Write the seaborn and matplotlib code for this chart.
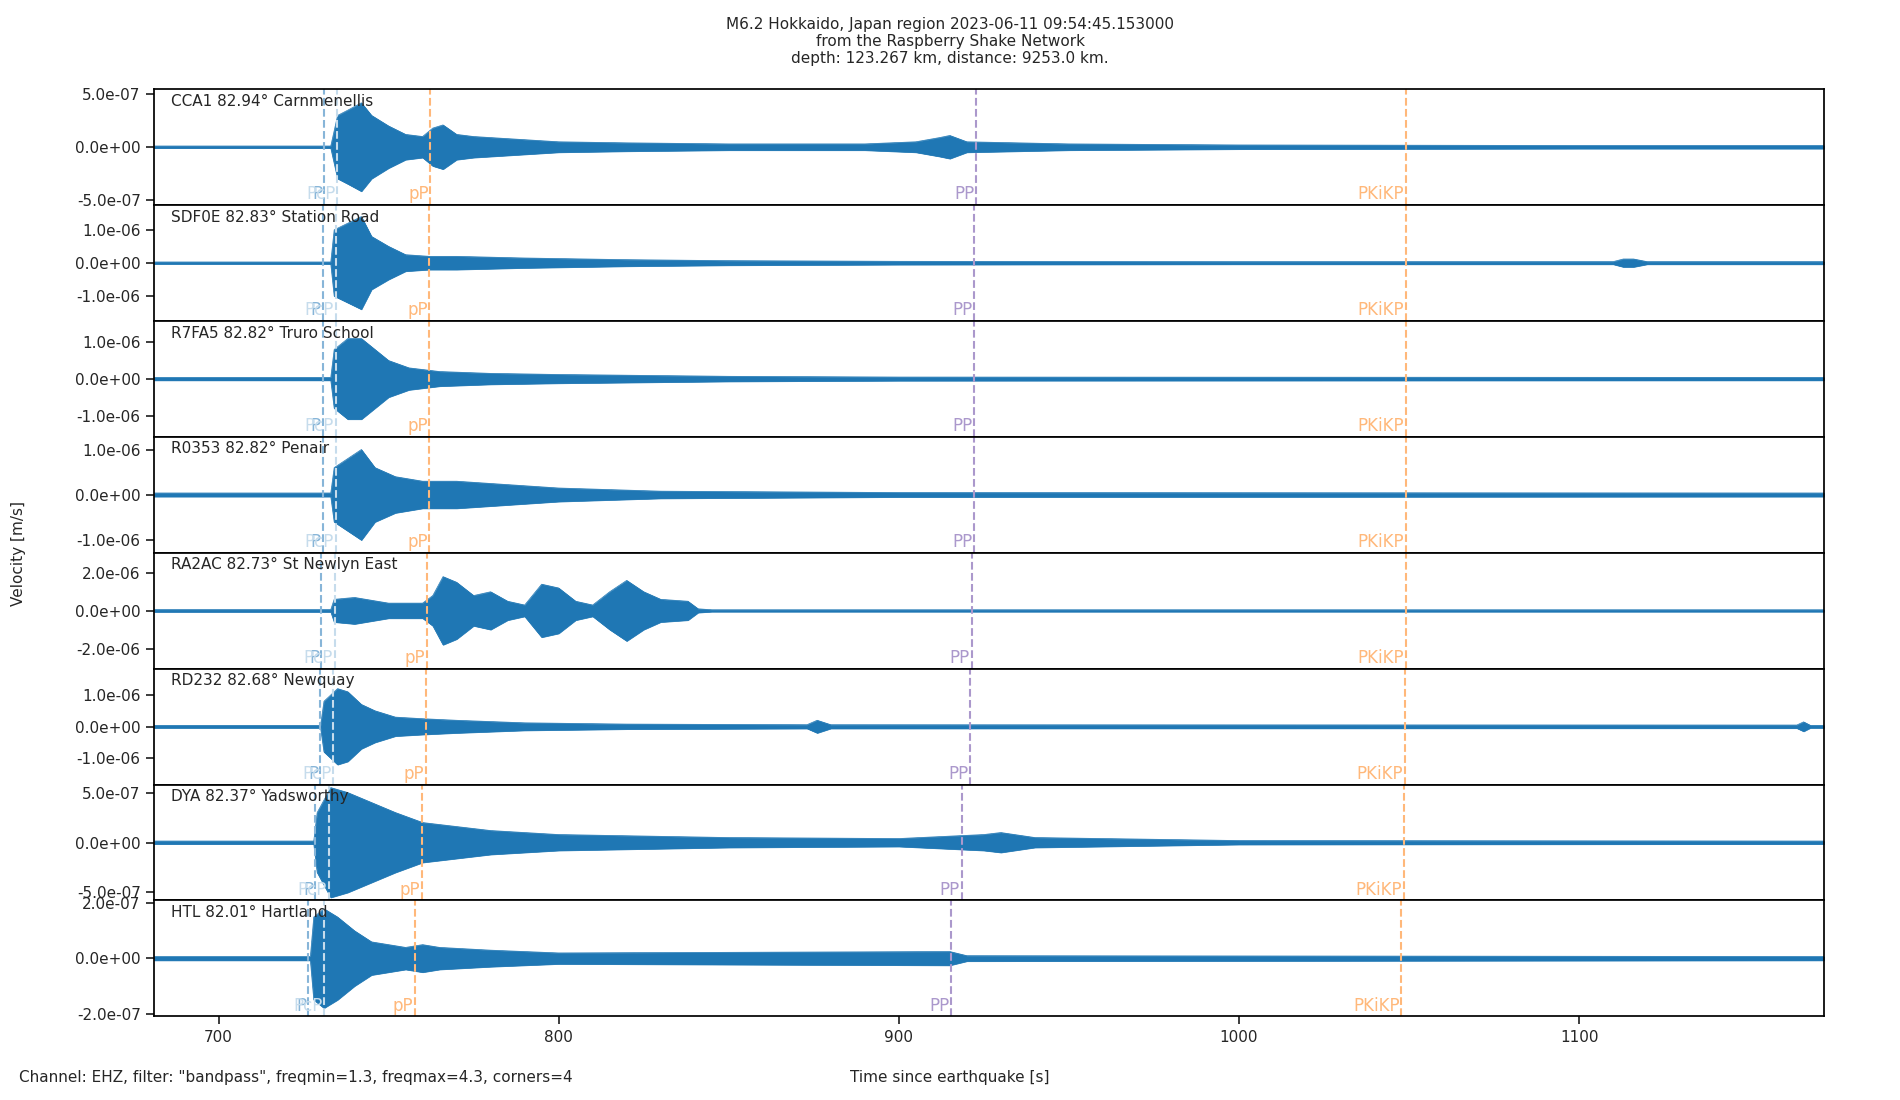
"""
Raspberry Shake section plot, M6.2 Hokkaido 2023-06-11
"""
import numpy as np
import pandas as pd
import matplotlib
matplotlib.use("Agg")
import matplotlib.pyplot as plt
import seaborn as sns

sns.set_theme(style="ticks")
plt.rcParams['font.family'] = ['DejaVu Sans']

# station labels, top to bottom
stations = ["CCA1 82.94° Carnmenellis", "SDF0E 82.83° Station Road",
            "R7FA5 82.82° Truro School", "R0353 82.82° Penair",
            "RA2AC 82.73° St Newlyn East", "RD232 82.68° Newquay",
            "DYA 82.37° Yadsworthy", "HTL 82.01° Hartland"]

# y tick value per panel and y limit (m/s)
tick_vals = [5e-7, 1e-6, 1e-6, 1e-6, 2e-6, 1e-6, 5e-7, 2e-7]
y_lims = [5.5e-7, 1.75e-6, 1.58e-6, 1.28e-6, 3.06e-6, 1.83e-6, 5.8e-7, 2.1e-7]

# phase arrival times per station [s]: P, PcP, pP, PP, PKiKP
phase_names = ["P", "PcP", "pP", "PP", "PKiKP"]
phase_colors = ["#87b5d8", "#c6dcec", "#ffb87a", "#ab98cc", "#ffb87a"]
arrivals = [
    [731.0, 734.9, 762.3, 922.8, 1049.1],
    [730.6, 734.5, 762.0, 922.1, 1049.1],
    [730.6, 734.5, 762.0, 922.1, 1049.1],
    [730.6, 734.5, 762.0, 922.1, 1049.1],
    [730.2, 734.2, 761.2, 921.4, 1049.0],
    [729.9, 733.8, 760.9, 921.0, 1048.8],
    [728.5, 732.4, 759.8, 918.5, 1048.4],
    [726.3, 731.0, 757.7, 915.3, 1047.7],
]

# trace envelope: times [s] and amplitude [1e-7 m/s]
env_t = [
    [681, 733, 735, 738, 742, 745, 750, 755, 760, 763, 766, 770, 775, 790, 800, 820, 850, 890, 905, 912, 915, 920, 950, 1000, 1100, 1172],
    [681, 733, 734, 738, 742, 745, 750, 755, 762, 770, 790, 820, 850, 900, 1000, 1110, 1113, 1116, 1120, 1172],
    [681, 733, 734, 738, 742, 746, 750, 756, 765, 780, 800, 850, 900, 1172],
    [681, 733, 734, 740, 742, 746, 752, 760, 770, 780, 790, 800, 830, 900, 1172],
    [681, 733, 734, 740, 750, 760, 763, 766, 770, 775, 780, 785, 790, 795, 800, 805, 810, 815, 820, 825, 830, 838, 841, 845, 1172],
    [681, 730, 731, 735, 738, 742, 746, 752, 760, 770, 790, 820, 873, 876, 880, 1164, 1166, 1168, 1172],
    [681, 728, 729, 733, 738, 745, 752, 760, 770, 780, 800, 850, 900, 925, 930, 940, 1000, 1172],
    [681, 727, 728, 731, 735, 740, 745, 755, 760, 765, 780, 800, 915, 920, 1172],
]
env_a = [
    [0.1, 0.1, 3.0, 3.5, 4.2, 3.0, 2.0, 1.2, 1.0, 1.8, 2.1, 1.2, 1.0, 0.7, 0.5, 0.4, 0.3, 0.3, 0.5, 0.9, 1.1, 0.5, 0.3, 0.2, 0.15, 0.15],
    [0.3, 0.3, 10, 12, 14, 8, 5, 2.5, 2.0, 2.0, 1.5, 1.0, 0.7, 0.5, 0.4, 0.4, 1.2, 1.2, 0.4, 0.4],
    [0.4, 0.4, 8, 11, 11, 8, 5, 3, 2, 1.5, 1.2, 0.7, 0.5, 0.4],
    [0.4, 0.4, 6, 9, 10, 6, 4, 3, 3, 2.5, 2, 1.5, 0.8, 0.5, 0.4],
    [0.6, 0.6, 6, 7, 4, 4, 8, 18, 15, 8, 10, 5, 3, 14, 12, 5, 3, 10, 16, 10, 6, 5, 1, 0.5, 0.5],
    [0.4, 0.4, 8, 12, 11, 7, 5, 3, 2.5, 2, 1.2, 0.8, 0.6, 2, 0.6, 0.5, 1.5, 0.4, 0.4],
    [0.15, 0.15, 3, 5.5, 5, 4, 3, 2, 1.6, 1.2, 0.8, 0.5, 0.4, 0.8, 1.0, 0.5, 0.2, 0.15],
    [0.07, 0.07, 1.5, 1.8, 1.5, 1.0, 0.6, 0.4, 0.5, 0.4, 0.3, 0.2, 0.25, 0.1, 0.07],
]

fig, axes = plt.subplots(len(stations), 1, sharex=True, figsize=(19, 11), dpi=100)
fig.subplots_adjust(left=0.081, right=0.960, top=0.919, bottom=0.076, hspace=0)

for i, ax in enumerate(axes):
    df = pd.DataFrame({"t": env_t[i], "a": np.array(env_a[i]) * 1e-7})
    ax.fill_between(df["t"], -df["a"], df["a"], color="#1f77b4", linewidth=0.5)
    sns.lineplot(data=df, x="t", y="a", ax=ax, color="#1f77b4", linewidth=0.5)
    ax.plot(df["t"], -df["a"], color="#1f77b4", linewidth=0.5)
    ax.axhline(0, color="#1f77b4", linewidth=1.0)

    ax.set_ylim(-y_lims[i], y_lims[i])
    ax.set_xlim(681, 1172)
    ax.set_yticks([-tick_vals[i], 0, tick_vals[i]])
    ax.yaxis.set_major_formatter(matplotlib.ticker.FormatStrFormatter('%.1e'))
    ax.set_xticks([700, 800, 900, 1000, 1100])
    ax.tick_params(labelsize=11, direction="out")
    ax.set_xlabel("")
    ax.set_ylabel("")
    for s in ax.spines.values():
        s.set_visible(True)
        s.set_color("black")

    ax.text(0.01, 0.96, stations[i], transform=ax.transAxes, va="top",
            ha="left", fontsize=11)

    for j, name in enumerate(phase_names):
        x = arrivals[i][j]
        ax.axvline(x, color=phase_colors[j], linestyle="--", linewidth=1.5)
        ax.text(x - 0.5, -y_lims[i] * 0.97, name, color=phase_colors[j],
                ha="right", va="bottom", fontsize=12)

fig.text(0.5, 0.985, "M6.2 Hokkaido, Japan region 2023-06-11 09:54:45.153000\n"
         "from the Raspberry Shake Network\n"
         "depth: 123.267 km, distance: 9253.0 km.",
         ha="center", va="top", fontsize=11)
fig.text(0.01, 0.014, 'Channel: EHZ, filter: "bandpass", freqmin=1.3, freqmax=4.3, corners=4',
         ha="left", va="bottom", fontsize=11)
fig.text(0.5, 0.014, "Time since earthquake [s]", ha="center", va="bottom", fontsize=11)
fig.text(0.01, 0.497, "Velocity [m/s]", rotation=90, ha="center", va="center", fontsize=11)

fig.savefig("out.png", dpi=100)
